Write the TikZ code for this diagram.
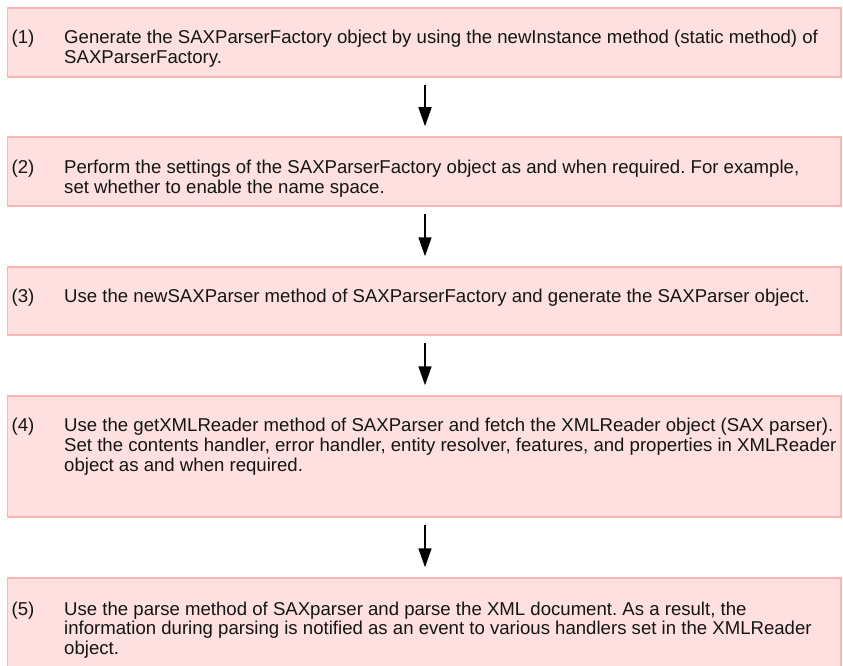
\documentclass[tikz,border=0pt]{standalone}
\usepackage{fontspec}
\setmainfont{Liberation Sans}
\usetikzlibrary{arrows.meta}
\definecolor{boxfill}{RGB}{255,224,225}
\definecolor{boxline}{RGB}{255,180,180}
\definecolor{txtcol}{RGB}{20,20,20}
\tikzset{
  stepbox/.style={draw=boxline, fill=boxfill, line width=1.5pt, rectangle, inner sep=0pt, minimum width=833.5pt},
  ln/.style={anchor=base west, inner sep=0pt, text=txtcol, font=\fontsize{18.6pt}{20pt}\selectfont\frenchspacing},
  arr/.style={line width=1.6pt, -{Triangle[width=13pt,length=19pt]}}
}
\begin{document}
\begin{tikzpicture}[x=1pt,y=-1pt]
\clip (0,0) rectangle (843,666);
\fill[white] (0,0) rectangle (843,666);
% boxes
\node[stepbox, minimum height=69pt] (b1) at (424.25,42.5) {};
\node[stepbox, minimum height=69pt] (b2) at (424.25,171.5) {};
\node[stepbox, minimum height=68pt] (b3) at (424.25,301) {};
\node[stepbox, minimum height=121pt] (b4) at (424.25,456.5) {};
\node[stepbox, minimum height=142pt] (b5) at (424.25,649) {};
% box 1
\node[ln] (n1) at (11.5,44) {(1)};
\node[ln] (t1a) at (64,44) {Generate the SAXParserFactory object by using the newInstance method (static method) of};
\node[ln] (t1b) at (64,64) {SAXParserFactory.};
% box 2
\node[ln] (n2) at (11.5,173) {(2)};
\node[ln] (t2a) at (64,173) {Perform the settings of the SAXParserFactory object as and when required. For example,};
\node[ln] (t2b) at (64,193) {set whether to enable the name space.};
% box 3
\node[ln] (n3) at (11.5,302) {(3)};
\node[ln] (t3a) at (64,302) {Use the newSAXParser method of SAXParserFactory and generate the SAXParser object.};
% box 4
\node[ln] (n4) at (11.5,431) {(4)};
\node[ln] (t4a) at (64,431) {Use the getXMLReader method of SAXParser and fetch the XMLReader object (SAX parser).};
\node[ln] (t4b) at (64,451) {Set the contents handler, error handler, entity resolver, features, and properties in XMLReader};
\node[ln] (t4c) at (64,471) {object as and when required.};
% box 5
\node[ln] (n5) at (11.5,615) {(5)};
\node[ln] (t5a) at (64,615) {Use the parse method of SAXparser and parse the XML document. As a result, the};
\node[ln] (t5b) at (64,634.5) {information during parsing is notified as an event to various handlers set in the XMLReader};
\node[ln] (t5c) at (64,654) {object.};
% arrows
\draw[arr] ([xshift=0.75pt,yshift=-7pt]b1.south) -- ([xshift=0.75pt,yshift=10pt]b2.north);
\draw[arr] ([xshift=0.75pt,yshift=-7pt]b2.south) -- ([xshift=0.75pt,yshift=10pt]b3.north);
\draw[arr] ([xshift=0.75pt,yshift=-7pt]b3.south) -- ([xshift=0.75pt,yshift=10pt]b4.north);
\draw[arr] ([xshift=0.75pt,yshift=-7pt]b4.south) -- ([xshift=0.75pt,yshift=10pt]b5.north);
\end{tikzpicture}
\end{document}
